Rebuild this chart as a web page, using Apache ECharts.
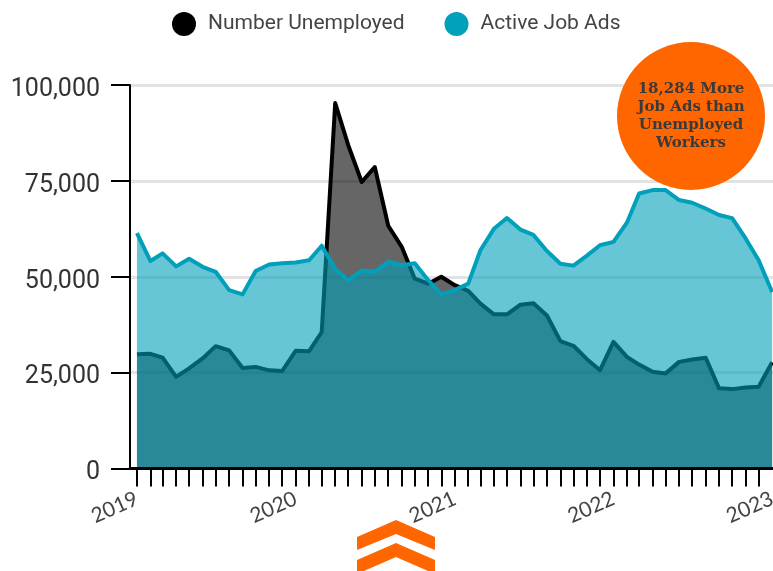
<!DOCTYPE html>
<html>
<head>
<meta charset="utf-8">
<style>
    html, body { margin: 0; padding: 0; background: #fff; }
    #chart { width: 773px; height: 571px; }
</style>
<script src="https://cdn.jsdelivr.net/npm/echarts@6/dist/echarts.min.js"></script>
</head>
<body>
<div id="chart"></div>
<script>
// monthly, Jan 2019 - Jan 2023
const firstYear = 2019;
const yearLabels = [2019, 2020, 2021, 2022, 2023];
const yTicks = [0, 25000, 50000, 75000, 100000];
const unemployed = [
    29800, 29900, 28900, 23900, 26100, 28700, 31900, 30800, 26200, 26500, 25600, 25400,
    30700, 30600, 35600, 95300, 84300, 74700, 78600, 63300, 57800, 49500, 48200, 50000,
    47800, 46300, 43000, 40200, 40200, 42700, 43100, 39900, 33200, 32000, 28500, 25600,
    33000, 29100, 27100, 25200, 24800, 27800, 28400, 28900, 20900, 20700, 21100, 21300,
    27700
];
const jobAds = [
    61400, 54100, 56100, 52700, 54700, 52600, 51300, 46500, 45400, 51500, 53200, 53500,
    53700, 54300, 58100, 52000, 49100, 51600, 51300, 53900, 53000, 53500, 49100, 45400,
    46500, 48200, 56900, 62500, 65300, 62300, 60900, 56700, 53400, 52900, 55500, 58200,
    59100, 64100, 71700, 72600, 72600, 70000, 69300, 67800, 66100, 65300, 60000, 54300,
    46000
];

const months = unemployed.map((v, i) => new Date(firstYear, i, 1).getTime());
const pairs = (values) => values.map((v, i) => [months[i], v]);
const years = yearLabels.map((y) => new Date(y, 0, 1).getTime());

const orange = '#ff6600';

let chart = echarts.init(document.getElementById('chart'));
chart.setOption({
    animation: false,
    legend: {
        left: 167,
        top: 7,
        itemWidth: 24,
        itemHeight: 24,
        itemGap: 40,
        icon: 'circle',
        selectedMode: false,
        textStyle: { fontFamily: 'Roboto, sans-serif', fontSize: 21, color: '#444', padding: [2, 0, 0, 7] },
        data: ['Number Unemployed', 'Active Job Ads']
    },
    grid: { left: 130, right: 0, top: 85, height: 383.5, outerBoundsMode: 'none' },
    // plain value axis over timestamps so ticks can sit exactly on the months
    xAxis: {
        type: 'value',
        z: 5,
        min: new Date(2018, 11, 16).getTime(),
        max: new Date(2023, 0, 3).getTime(),
        axisLine: { lineStyle: { color: '#000', width: 3 } },
        // no tick on the last month
        axisTick: { length: 18, lineStyle: { color: '#000', width: 2 }, customValues: months.slice(0, -1) },
        splitLine: { show: false },
        axisLabel: {
            customValues: years,
            formatter: (value) => String(new Date(value).getFullYear()),
            rotate: 24,
            margin: 29,
            showMinLabel: true,
            showMaxLabel: true,
            fontFamily: 'Lato, sans-serif',
            fontSize: 21,
            color: '#444'
        }
    },
    yAxis: {
        type: 'value',
        min: 0,
        max: 100000,
        interval: 25000,
        axisLine: { show: true, lineStyle: { color: '#000', width: 2 } },
        axisTick: { show: true, length: 19, lineStyle: { color: '#000', width: 2 } },
        splitLine: { lineStyle: { color: '#e3e3e3', width: 3 } },
        axisLabel: {
            margin: 30,
            verticalAlign: 'top',
            lineHeight: 9,
            fontFamily: 'Roboto, sans-serif',
            fontSize: 25,
            color: '#333',
            formatter: (value) => yTicks.includes(value) ? value.toLocaleString('en-US') : ''
        }
    },
    series: [
        {
            name: 'Number Unemployed',
            type: 'line',
            z: 2,
            data: pairs(unemployed),
            showSymbol: false,
            itemStyle: { color: '#000' },
            lineStyle: { color: '#000', width: 4, join: 'round' },
            areaStyle: { color: '#000', opacity: 0.6 }
        },
        {
            name: 'Active Job Ads',
            type: 'line',
            z: 3,
            data: pairs(jobAds),
            showSymbol: false,
            itemStyle: { color: '#00a0bb' },
            lineStyle: { color: '#00a0bb', width: 4, join: 'round' },
            areaStyle: { color: '#00a0bb', opacity: 0.6 }
        }
    ],
    graphic: [
        { type: 'circle', z: 50, shape: { cx: 691, cy: 116, r: 74 }, style: { fill: orange } },
        {
            type: 'text',
            z: 51,
            x: 691,
            y: 116,
            style: {
                text: '18,284 More\nJob Ads than\nUnemployed\nWorkers',
                fill: '#3a3a3a',
                font: 'bold 15px "DejaVu Serif", serif',
                lineHeight: 18,
                align: 'center',
                verticalAlign: 'middle'
            }
        },
        { type: 'polygon', z: 50, shape: { points: [[396, 520], [435, 537], [435, 550], [396, 534], [357, 550], [357, 537]] }, style: { fill: orange } },
        { type: 'polygon', z: 50, shape: { points: [[396, 543], [435, 560], [435, 574], [396, 557], [357, 574], [357, 560]] }, style: { fill: orange } }
    ]
});
</script>
</body>
</html>
